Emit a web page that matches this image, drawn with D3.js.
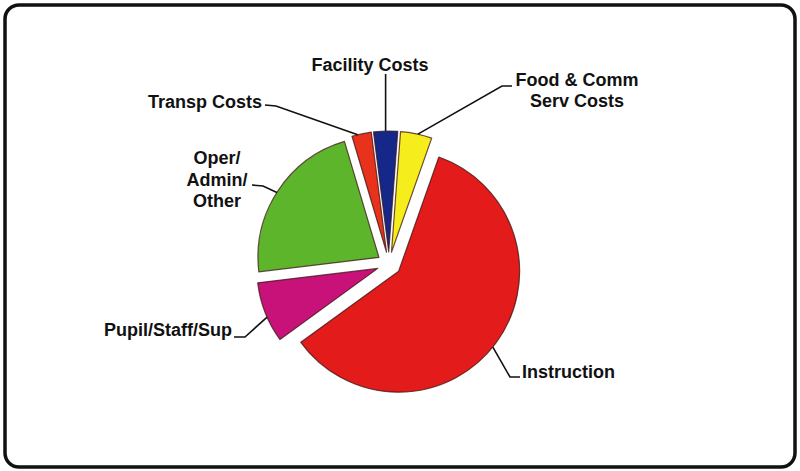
<!DOCTYPE html>
<html>
<head>
<meta charset="utf-8">
<script src="https://cdn.jsdelivr.net/npm/d3@7"></script>
<style>
  html, body { margin: 0; padding: 0; background: #fff; }
  svg { display: block; }
</style>
</head>
<body>
<svg id="chart" width="800" height="471"></svg>
<script>
// Spending categories, clockwise from the top of the pie
const categories = ["Food & Comm Serv Costs", "Instruction", "Pupil/Staff/Sup", "Oper/Admin/Other", "Transp Costs", "Facility Costs"];
// Share of total spending (%)
const values = [4.2, 59.6, 8.1, 22.3, 2.6, 3.2];
// Label text, split into lines
const labelLines = [["Food & Comm", "Serv Costs"], ["Instruction"], ["Pupil/Staff/Sup"], ["Oper/", "Admin/", "Other"], ["Transp Costs"], ["Facility Costs"]];
const colors = ["#f6ee1c", "#e31b1b", "#c8127a", "#5db52b", "#e8321c", "#16278a"];

const svg = d3.select("#chart");
const W = 800, H = 471;

// rounded frame
svg.append("rect")
  .attr("x", 5).attr("y", 5)
  .attr("width", W - 10).attr("height", H - 9)
  .attr("rx", 14).attr("ry", 14)
  .attr("fill", "#fff")
  .attr("stroke", "#111")
  .attr("stroke-width", 3.5);

const cx = 389, cy = 264, R = 121, explode = 12;
const startDeg = 4.3;

const pie = d3.pie().sort(null).value(d => d)
  .startAngle(startDeg * Math.PI / 180)
  .endAngle((startDeg + 360) * Math.PI / 180);
const arcs = pie(values);
const arc = d3.arc().innerRadius(0).outerRadius(R);

// explosion offset along each slice's bisector
function offset(a) {
  const m = (a.startAngle + a.endAngle) / 2;
  return [Math.sin(m) * explode, -Math.cos(m) * explode];
}

const g = svg.append("g").attr("transform", `translate(${cx},${cy})`);

g.selectAll("path.slice")
  .data(arcs)
  .join("path")
  .attr("class", "slice")
  .attr("transform", d => { const o = offset(d); return `translate(${o[0]},${o[1]})`; })
  .attr("d", arc)
  .attr("fill", (d, i) => colors[i])
  .attr("stroke", "#3b1414")
  .attr("stroke-opacity", 0.75)
  .attr("stroke-width", 1.2)
  .attr("stroke-linejoin", "round");

// label layout: text anchor, baseline of first line, leader start/elbow, fraction along the slice where the leader meets the rim
const labelLayout = [
  { x: 577, y: 86, anchor: "middle", start: [512, 86], elbow: [502, 86], t: 0.55 },
  { x: 522, y: 378, anchor: "start", start: [520, 377], elbow: [510, 377], t: 0.51 },
  { x: 232, y: 336, anchor: "end", start: [234, 337], elbow: [245, 337], t: 0.42 },
  { x: 217, y: 164, anchor: "middle", start: [252, 185], elbow: [263, 186], t: 0.49 },
  { x: 262, y: 108, anchor: "end", start: [265, 105], elbow: [276, 106], t: 0.3 },
  { x: 370, y: 71, anchor: "middle", start: null, elbow: [385, 74], t: 0.5 }
];

function rimPoint(a, t) {
  const ang = a.startAngle + (a.endAngle - a.startAngle) * t;
  const o = offset(a);
  return [cx + o[0] + Math.sin(ang) * R, cy + o[1] - Math.cos(ang) * R];
}

const line = d3.line();
arcs.forEach((a, i) => {
  const L = labelLayout[i];
  const end = rimPoint(a, L.t);
  let pts;
  if (L.start) pts = [L.start, L.elbow, end];
  else pts = [[end[0], L.elbow[1]], end];
  svg.append("path")
    .attr("d", line(pts))
    .attr("fill", "none")
    .attr("stroke", "#111")
    .attr("stroke-width", 1.6);

  const text = svg.append("text")
    .attr("x", L.x).attr("y", L.y)
    .attr("text-anchor", L.anchor)
    .attr("font-family", "Liberation Sans, Arial, sans-serif")
    .attr("font-weight", "bold")
    .attr("font-size", 18)
    .attr("fill", "#111");
  labelLines[i].forEach((s, j) => {
    text.append("tspan")
      .attr("x", L.x)
      .attr("dy", j === 0 ? 0 : (i === 3 ? 21.5 : 21))
      .text(s);
  });
});
</script>
</body>
</html>
